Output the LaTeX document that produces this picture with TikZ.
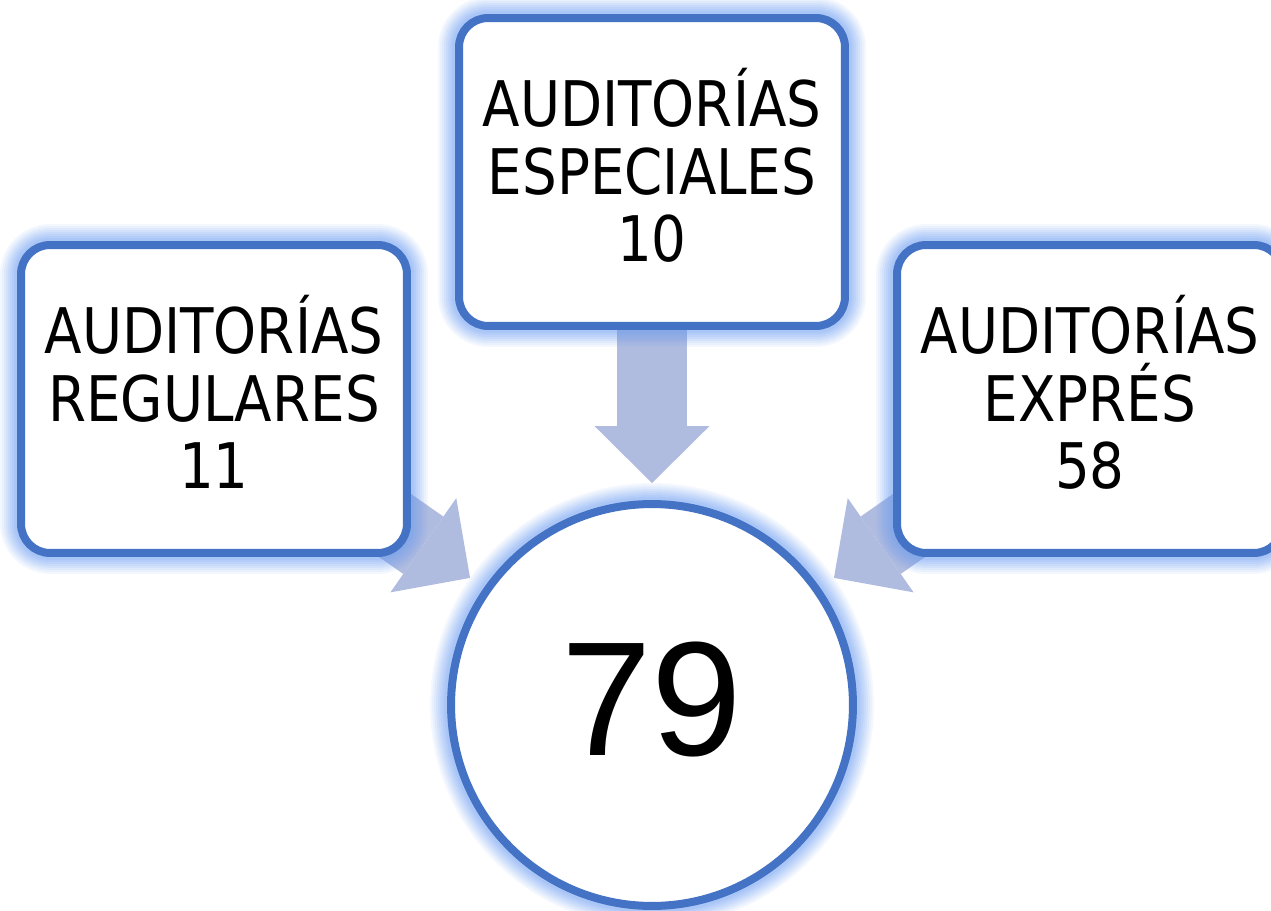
\documentclass[tikz,border=0pt]{standalone}
\usepackage{fontspec}
\usetikzlibrary{arrows.meta,backgrounds}
\newfontfamily\boxfont[FakeStretch=0.87]{DejaVu Sans}
\newfontfamily\totalfont{Liberation Sans}
\definecolor{lineblue}{HTML}{4472C4}
\definecolor{haloblue}{HTML}{6E9EF2}
\definecolor{arrowblue}{HTML}{B0BCDF}
\tikzset{
  halo/.style={
    preaction={draw=haloblue,draw opacity=0.08,line width=0.84cm},
    preaction={draw=haloblue,draw opacity=0.08,line width=0.76cm},
    preaction={draw=haloblue,draw opacity=0.09,line width=0.68cm},
    preaction={draw=haloblue,draw opacity=0.10,line width=0.60cm},
    preaction={draw=haloblue,draw opacity=0.11,line width=0.52cm},
    preaction={draw=haloblue,draw opacity=0.12,line width=0.44cm},
    preaction={draw=haloblue,draw opacity=0.13,line width=0.36cm},
    preaction={draw=haloblue,draw opacity=0.14,line width=0.28cm}},
  auditbox/.style={halo,draw=lineblue,fill=white,line width=0.16cm,
    rounded corners=0.58cm,minimum width=7.72cm,minimum height=6.16cm,
    align=center,inner sep=0pt,text depth=0.28cm,
    font=\boxfont\fontsize{35.8}{38.3}\selectfont},
  totalnode/.style={halo,circle,draw=lineblue,fill=white,line width=0.16cm,
    minimum size=8.04cm,inner sep=0pt,text depth=0.26cm,
    font=\totalfont\fontsize{92.6}{100}\selectfont},
  bigarrow/.style={draw=arrowblue,line width=1.4cm,shorten >=0.34cm,
    -{Triangle[width=2.3cm,length=1.14cm,line width=0pt]}}
}
\begin{document}
\begin{tikzpicture}[x=0.02cm,y=-0.02cm]
  \useasboundingbox (0,0) rectangle (1271,911);
  % the three kinds of audit
  \node[auditbox] (regular) at (214,399) {AUDITORÍAS\\REGULARES\\11};
  \node[auditbox] (especial) at (652,172) {AUDITORÍAS\\ESPECIALES\\10};
  \node[auditbox] (expres) at (1090,399) {AUDITORÍAS\\EXPRÉS\\58};
  % total
  \node[totalnode] (total) at (652,705) {79};
  \begin{scope}[on background layer]
    \draw[bigarrow] (regular.center) -- (total);
    \draw[bigarrow] (especial.center) -- (total);
    \draw[bigarrow] (expres.center) -- (total);
  \end{scope}
\end{tikzpicture}
\end{document}
